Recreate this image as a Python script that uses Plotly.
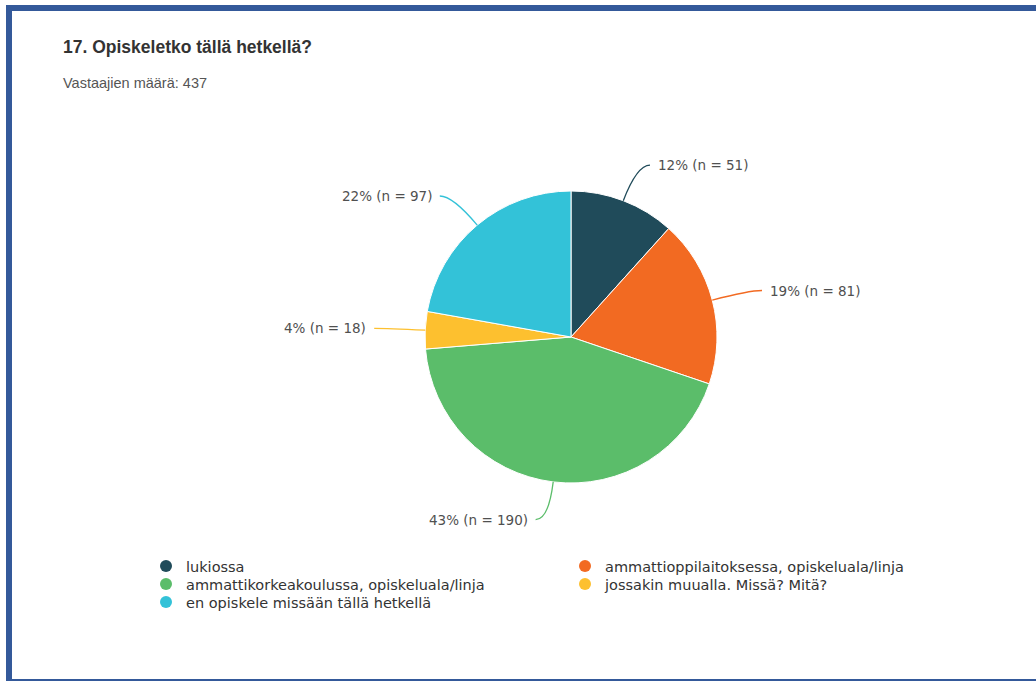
import math
import plotly.graph_objects as go

categories = [
    "lukiossa",
    "ammattioppilaitoksessa, opiskeluala/linja",
    "ammattikorkeakoulussa, opiskeluala/linja",
    "jossakin muualla. Missä? Mitä?",
    "en opiskele missään tällä hetkellä",
]
counts = [51, 81, 190, 18, 97]
colors = ["#204b5a", "#f26a22", "#5bbd6a", "#fdc02f", "#33c2d8"]
legend_rows = ["legend", "legend", "legend2", "legend2", "legend3"]
title_text = "17. Opiskeletko tällä hetkellä?"
subtitle_text = "Vastaajien määrä: 437"

W, H = 1036, 681
CX, CY, R = 571, 337, 146
FONT = "Liberation Sans, Arial, sans-serif"
FONT2 = "DejaVu Sans, sans-serif"

fig = go.Figure()

fig.add_trace(go.Pie(
    labels=categories, values=counts, sort=False, direction="clockwise", rotation=0,
    marker=dict(colors=colors, line=dict(color="white", width=1)),
    textinfo="none", showlegend=False, hoverinfo="label+value+percent",
    domain=dict(x=[(CX - R) / W, (CX + R) / W], y=[1 - (CY + R) / H, 1 - (CY - R) / H]),
))

# legend entries (circle symbols)
for name, col, lg in zip(categories, colors, legend_rows):
    fig.add_trace(go.Scatter(x=[None], y=[None], mode="markers", name=name,
                             marker=dict(color=col, size=12, symbol="circle"),
                             showlegend=True, legend=lg, hoverinfo="skip"))

# outside labels with connectors, derived from the values
total = sum(counts)
shapes = []
annotations = []
cum = 0
for v, col in zip(counts, colors):
    mid = (cum + v / 2) / total * 2 * math.pi
    cum += v
    ux, uy = math.sin(mid), -math.cos(mid)
    p0 = (CX + R * ux, CY + R * uy)
    p1 = (CX + (R + 38) * ux, CY + (R + 38) * uy)
    side = 1 if ux >= 0 else -1
    p2 = (p1[0] + 13 * side, p1[1])
    shapes.append(dict(type="path", xref="x", yref="y",
                       path=f"M{p0[0]:.1f},{p0[1]:.1f} Q{p1[0]:.1f},{p1[1]:.1f} {p2[0]:.1f},{p2[1]:.1f}",
                       line=dict(color=col, width=1.3)))
    pct = round(v / total * 100)
    annotations.append(dict(x=p2[0] + 6 * side, y=p2[1], xref="x", yref="y",
                            text=f"{pct}% (n = {v})", showarrow=False,
                            xanchor="left" if side > 0 else "right", yanchor="middle",
                            font=dict(family=FONT2, size=13.5, color="#505050")))

# frame
frame_col = "#34599a"
shapes += [
    dict(type="rect", xref="x", yref="y", x0=6, x1=12, y0=5, y1=H, fillcolor=frame_col, line_width=0),
    dict(type="rect", xref="x", yref="y", x0=6, x1=W, y0=5, y1=11, fillcolor=frame_col, line_width=0),
    dict(type="rect", xref="x", yref="y", x0=6, x1=W, y0=679, y1=H, fillcolor=frame_col, line_width=0),
]

annotations += [
    dict(x=61, y=47, xref="x", yref="y", text=f"<b>{title_text}</b>", showarrow=False,
         xanchor="left", yanchor="middle", font=dict(family=FONT, size=17.5, color="#333")),
    dict(x=61, y=83, xref="x", yref="y", text=subtitle_text, showarrow=False,
         xanchor="left", yanchor="middle", font=dict(family=FONT, size=14.5, color="#555")),
]

def leg(ypx):
    return dict(orientation="h", x=146 / W, xanchor="left", y=1 - ypx / H, yanchor="middle",
                entrywidth=374, entrywidthmode="pixels", tracegroupgap=0,
                font=dict(family=FONT2, size=14.5, color="#333"), bgcolor="rgba(0,0,0,0)")

fig.update_layout(
    width=W, height=H, margin=dict(l=0, r=0, t=0, b=0),
    paper_bgcolor="white", plot_bgcolor="white",
    xaxis=dict(range=[0, W], visible=False, fixedrange=True),
    yaxis=dict(range=[H, 0], visible=False, fixedrange=True),
    shapes=shapes, annotations=annotations,
    legend=leg(566), legend2=leg(584), legend3=leg(602),
    showlegend=True,
)

fig.write_html("out.html")
